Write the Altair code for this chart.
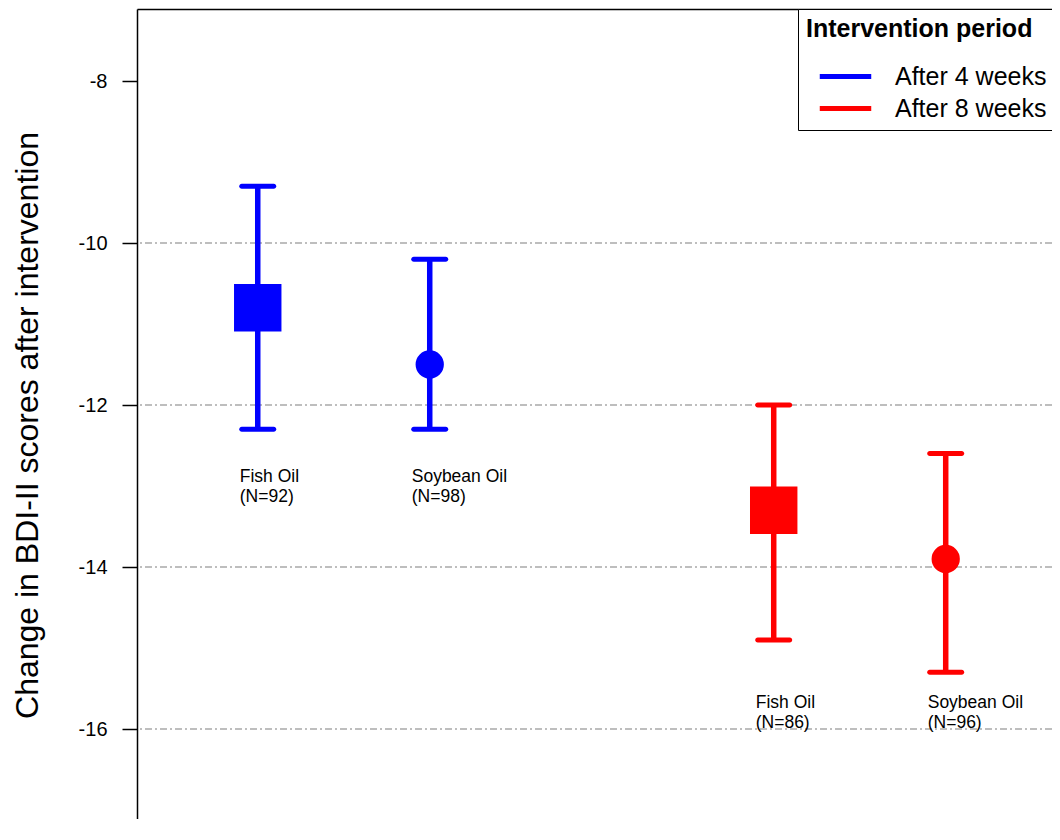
import altair as alt
import pandas as pd

# ---- data ----
oils = ["Fish Oil", "Soybean Oil", "Fish Oil", "Soybean Oil"]
n_subjects = [92, 98, 86, 96]
periods = ["After 4 weeks", "After 4 weeks", "After 8 weeks", "After 8 weeks"]
x_pos = [1, 2, 4, 5]
means = [-10.8, -11.5, -13.3, -13.9]
lower = [-12.3, -12.3, -14.9, -15.3]
upper = [-9.3, -10.2, -12.0, -12.6]
label_y = [-12.78, -12.78, -15.57, -15.57]
grid_values = [-10, -12, -14, -16]
y_ticks = [-16, -14, -12, -10, -8]
period_order = ["After 4 weeks", "After 8 weeks"]
period_colors = ["#0000ff", "#ff0000"]

df = pd.DataFrame({
    "oil": oils,
    "n": n_subjects,
    "period": periods,
    "x": x_pos,
    "mean": means,
    "lo": lower,
    "hi": upper,
    "ly": label_y,
})
df["label"] = [f"{o}\n(N={n})" for o, n in zip(oils, n_subjects)]
grid_df = pd.DataFrame({"g": grid_values})

FONT = "Liberation Sans"
W, H = 915, 810

xscale = alt.Scale(domain=[0.298, 5.618], nice=False, zero=False)
yscale = alt.Scale(domain=[-17.111, -7.111], nice=False, zero=False)
cscale = alt.Scale(domain=period_order, range=period_colors)

xaxis = alt.Axis(orient="top", labels=False, ticks=False, grid=False,
                 title=None, domainColor="black", domainWidth=1.5)
yaxis = alt.Axis(values=y_ticks, labelExpr="'' + datum.value", grid=False,
                 title="Change in BDI-II scores after intervention",
                 titleFont=FONT, titleFontSize=32, titleFontWeight="normal",
                 titleColor="black", titleAngle=-90, titleX=-100, titleY=416,
                 titleAlign="center", titleBaseline="alphabetic",
                 labelFont=FONT, labelFontSize=20, labelColor="black",
                 labelPadding=15, tickSize=15, tickColor="black",
                 tickWidth=1.5, domainColor="black", domainWidth=1.5)
legend = alt.Legend(
    title="Intervention period", orient="none",
    legendX=661, legendY=0, padding=8,
    strokeColor="black", fillColor="white",
    titleFont=FONT, titleFontSize=25, titleFontWeight="bold",
    titleColor="black", titlePadding=22, titleLimit=600,
    labelFont=FONT, labelFontSize=25, labelColor="black", labelLimit=600,
    symbolType="stroke", symbolSize=2650, symbolStrokeWidth=5,
    symbolOffset=11, labelOffset=21, clipHeight=25, rowPadding=6)

X = alt.X("x:Q", scale=xscale, axis=xaxis)

def Y(field):
    return alt.Y(field, scale=yscale, axis=yaxis)

base = alt.Chart(df)

grid = alt.Chart(grid_df).mark_rule(
    color="#a9a9a9", strokeWidth=1.5, strokeDash=[7, 3, 2, 3]
).encode(y=Y("g:Q"))

stems = base.mark_rule(strokeWidth=5.5).encode(
    x=X, y=Y("lo:Q"), y2="hi:Q",
    color=alt.Color("period:N", scale=cscale, legend=legend),
)

caps_lo = base.mark_tick(orient="horizontal", size=37, thickness=5,
                         cornerRadius=2.5, opacity=1).encode(
    x=X, y=Y("lo:Q"),
    color=alt.Color("period:N", scale=cscale, legend=legend))
caps_hi = base.mark_tick(orient="horizontal", size=37, thickness=5,
                         cornerRadius=2.5, opacity=1).encode(
    x=X, y=Y("hi:Q"),
    color=alt.Color("period:N", scale=cscale, legend=legend))

squares = base.transform_filter(alt.datum.oil == "Fish Oil").mark_square(
    size=2250, opacity=1).encode(
    x=X, y=Y("mean:Q"),
    color=alt.Color("period:N", scale=cscale, legend=legend))
circles = base.transform_filter(alt.datum.oil == "Soybean Oil").mark_circle(
    size=800, opacity=1).encode(
    x=X, y=Y("mean:Q"),
    color=alt.Color("period:N", scale=cscale, legend=legend))

labels = base.mark_text(
    align="left", baseline="top", dx=-18, font=FONT, fontSize=17.5,
    lineHeight=20, lineBreak="\n", color="black").encode(
    x=X, y=Y("ly:Q"), text="label:N")

chart = alt.layer(grid, stems, caps_lo, caps_hi, squares, circles, labels).properties(
    width=W, height=H,
    autosize=alt.AutoSizeParams(type="none"),
    padding={"left": 129, "top": 1, "right": 0, "bottom": 0},
    background="white",
).configure_view(stroke=None)

chart.save("out.html", embed_options={"renderer": "svg", "actions": False})
